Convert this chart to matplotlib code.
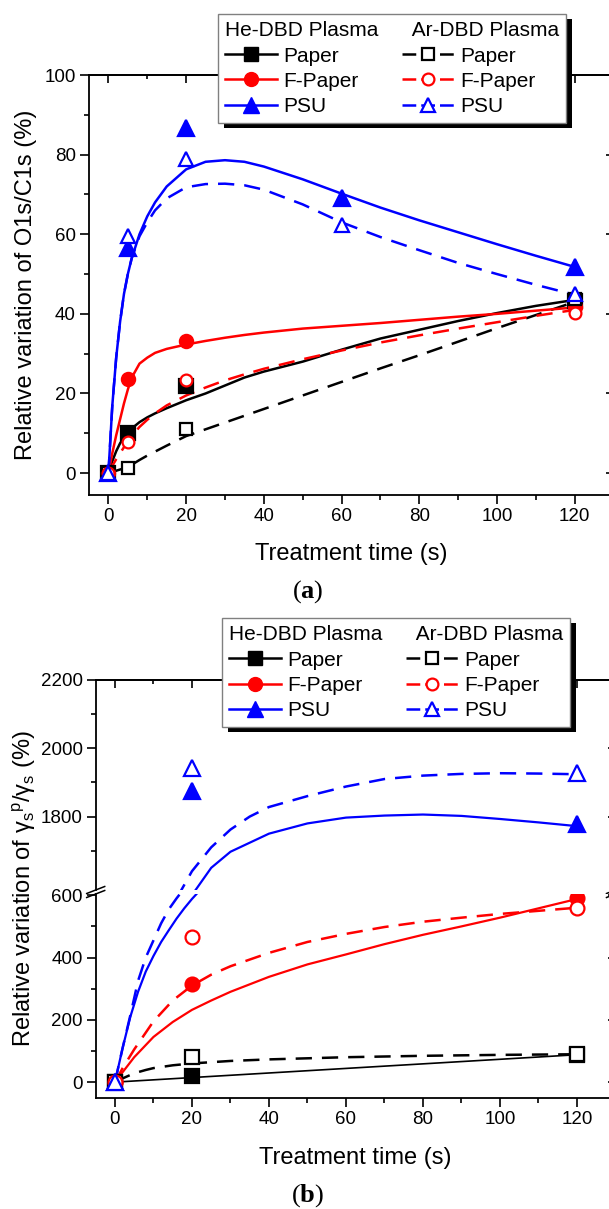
import matplotlib.pyplot as plt
from matplotlib.lines import Line2D
from matplotlib.patches import Rectangle
from matplotlib.ticker import MultipleLocator, FixedLocator
from matplotlib.transforms import IdentityTransform

plt.rcParams['font.family'] = ['Liberation Sans', 'DejaVu Sans']
plt.rcParams['mathtext.fontset'] = 'custom'
plt.rcParams['mathtext.rm'] = 'Liberation Sans'
plt.rcParams['mathtext.it'] = 'Liberation Sans:italic'
plt.rcParams['mathtext.bf'] = 'Liberation Serif:bold'

# ---------------- panel (a): O1s/C1s ----------------
t_a = [0, 5, 20, 120]
t_psu_a = [0, 5, 20, 60, 120]
paper_he_a = [0, 10.1, 22.0, 43.2]
paper_ar_a = [0, 1.2, 11.2, 43.8]
fpaper_he_a = [0, 23.6, 33.3, 41.6]
fpaper_ar_a = [0, 7.8, 23.5, 40.3]
psu_he_a = [0, 56.5, 86.6, 69.0, 51.8]
psu_ar_a = [0, 59.6, 78.8, 62.4, 45.0]

# fitted curves
t_fit_a = [0, 1, 2, 3, 4, 5, 6, 8, 10, 12, 15, 20, 25, 30, 35, 40,
           50, 60, 70, 80, 90, 100, 110, 120]
paper_he_fit_a = [0, 3, 5.5, 7.5, 9, 10.2, 11.2, 12.8, 14, 15, 16.3, 18.3, 20, 22, 24, 25.5,
                  28, 31, 33.8, 36, 38.2, 40.2, 42, 43.5]
paper_ar_fit_a = [0, 0.3, 0.6, 0.9, 1.2, 1.5, 2.1, 3.3, 4.4, 5.4, 6.9, 9.3, 11, 12.7, 14.4, 16.1,
                  19.5, 22.9, 26.3, 29.6, 33, 36.4, 39.7, 43]
fpaper_he_fit_a = [0, 5, 9.5, 13.5, 17.5, 21, 24, 27.5, 29, 30.2, 31.2, 32.3, 33.2, 34, 34.7, 35.3,
                   36.3, 37, 37.7, 38.5, 39.3, 40, 40.8, 41.6]
fpaper_ar_fit_a = [0, 1.8, 3.5, 5, 6.5, 8, 9.3, 11.6, 13.4, 15, 17, 19.5, 21.5, 23.3, 24.8, 26.2,
                   28.6, 30.8, 32.8, 34.6, 36.3, 37.9, 39.5, 41]
psu_he_fit_a = [0, 17, 29, 38, 45, 50, 54, 60, 64.5, 68, 72, 76.3, 78.2, 78.6, 78.2, 77,
                73.8, 70.2, 66.7, 63.5, 60.5, 57.5, 54.6, 51.8]
psu_ar_fit_a = [0, 17, 29, 38, 45, 50, 54, 59.5, 63, 66, 69, 71.8, 72.6, 72.7, 72.3, 71.2,
                67.5, 63, 59.3, 56, 52.8, 50, 47.3, 44.8]

# ---------------- panel (b): gamma_s^p / gamma_s ----------------
t_b = [0, 20, 120]
paper_he_b = [0, 20, 88]
paper_ar_b = [0, 82, 89]
fpaper_he_b = [0, 315, 590]
fpaper_ar_b = [0, 467, 558]
psu_he_b = [0, 1875, 1777]
psu_ar_b = [0, 1941, 1929]

t_paper_he_fit_b = [0, 120]
paper_he_fit_b = [0, 88]
t_paper_ar_fit_b = [0, 2, 4, 6, 8, 10, 15, 20, 30, 40, 60, 80, 100, 120]
paper_ar_fit_b = [0, 12, 23, 32, 39, 45, 54, 60, 68, 73, 80, 84.5, 87.5, 89.5]
t_fpaper_fit_b = [0, 2, 5, 10, 15, 20, 25, 30, 40, 50, 60, 70, 80, 90, 100, 110, 120]
fpaper_he_fit_b = [0, 32, 80, 145, 193, 232, 262, 290, 338, 378, 410, 443, 473, 500, 528, 558, 588]
fpaper_ar_fit_b = [0, 45, 105, 195, 262, 310, 345, 372, 415, 450, 476, 498, 515, 528, 540, 550, 560]
# PSU curves cross the axis break: lower and upper parts
t_psu_he_low_b = [0, 2, 4, 6, 8, 10, 12, 14, 16, 18, 20, 22]
psu_he_low_b = [0, 110, 210, 290, 355, 405, 450, 488, 525, 558, 588, 615]
t_psu_he_high_b = [20, 25, 30, 40, 50, 60, 70, 80, 90, 100, 110, 120]
psu_he_high_b = [1570, 1650, 1697, 1750, 1780, 1797, 1803, 1806, 1802, 1793, 1783, 1772]
t_psu_ar_low_b = [0, 2, 4, 6, 8, 10, 12, 14, 16, 18]
psu_ar_low_b = [0, 110, 215, 325, 400, 455, 510, 555, 590, 622]
t_psu_ar_high_b = [16, 20, 25, 30, 35, 40, 50, 60, 70, 80, 90, 100, 110, 120]
psu_ar_high_b = [1560, 1640, 1710, 1762, 1800, 1828, 1860, 1888, 1910, 1920, 1925, 1927, 1926, 1924]

hi_major = [1800, 2000, 2200]
hi_minor = [1700, 1900, 2100]

BLACK, RED, BLUE = '#000000', '#ff0000', '#0000ff'
DASH = (6.5, 4)

fig = plt.figure(figsize=(6.09, 12.09), dpi=100)
W, H = 609.0, 1209.0


def px_axes(left, top, right, bottom):
    return fig.add_axes([left / W, 1 - bottom / H, (right - left) / W, (bottom - top) / H])


def style(ax, xlabels=True, top=True, bottom=True):
    ax.xaxis.set_major_locator(MultipleLocator(20))
    ax.xaxis.set_minor_locator(MultipleLocator(10))
    ax.tick_params(which='both', direction='out', width=1.2, labelsize=13.5,
                   top=False, right=False, bottom=bottom, labelbottom=xlabels)
    ax.tick_params(which='major', length=6.5, pad=3)
    ax.tick_params(which='minor', length=3.5)
    for s in ax.spines.values():
        s.set_linewidth(1.3)
    sec_r = ax.secondary_yaxis('right')
    sec_r.yaxis.set_major_locator(ax.yaxis.get_major_locator())
    sec_r.yaxis.set_minor_locator(ax.yaxis.get_minor_locator())
    sec_r.tick_params(which='both', direction='in', width=1.2, labelright=False)
    sec_r.tick_params(which='major', length=6)
    sec_r.tick_params(which='minor', length=3)
    sec_r.spines['right'].set_linewidth(1.3)
    if top:
        sec_t = ax.secondary_xaxis('top')
        sec_t.xaxis.set_major_locator(MultipleLocator(20))
        sec_t.xaxis.set_minor_locator(MultipleLocator(10))
        sec_t.tick_params(which='both', direction='in', width=1.2, labeltop=False)
        sec_t.tick_params(which='major', length=6)
        sec_t.tick_params(which='minor', length=3)
        sec_t.spines['top'].set_linewidth(1.3)


def points(ax, t, y, color, marker, ms, filled):
    ax.plot(t, y, ls='none', marker=marker, ms=ms, color=color,
            mfc=color if filled else 'white', mec=color, mew=1.6,
            zorder=4 if filled else 5)


# ----- panel (a) -----
ax_a = px_axes(89, 75, 613.5, 495)
ax_a.set_xlim(-5, 130)
ax_a.set_ylim(-5.5, 100)
ax_a.yaxis.set_major_locator(MultipleLocator(20))
ax_a.yaxis.set_minor_locator(MultipleLocator(10))

ax_a.plot(t_fit_a, paper_he_fit_a, color=BLACK, lw=1.8)
ax_a.plot(t_fit_a, paper_ar_fit_a, color=BLACK, lw=1.8, dashes=DASH)
ax_a.plot(t_fit_a, fpaper_he_fit_a, color=RED, lw=1.8)
ax_a.plot(t_fit_a, fpaper_ar_fit_a, color=RED, lw=1.8, dashes=DASH)
ax_a.plot(t_fit_a, psu_he_fit_a, color=BLUE, lw=1.8)
ax_a.plot(t_fit_a, psu_ar_fit_a, color=BLUE, lw=1.8, dashes=DASH)

points(ax_a, t_a, paper_he_a, BLACK, 's', 9.5, True)
points(ax_a, t_a, fpaper_he_a, RED, 'o', 9.5, True)
points(ax_a, t_psu_a, psu_he_a, BLUE, '^', 11, True)
points(ax_a, t_a, paper_ar_a, BLACK, 's', 9, False)
points(ax_a, t_a, fpaper_ar_a, RED, 'o', 8.5, False)
points(ax_a, t_psu_a, psu_ar_a, BLUE, '^', 10, False)
style(ax_a)
ax_a.set_xlabel('Treatment time (s)', fontsize=17, labelpad=13)
fig.text(26 / W, 1 - 285 / H, 'Relative variation of O1s/C1s (%)', rotation=90,
         ha='center', va='center', fontsize=17)
fig.text(308 / W, 1 - 592 / H, r'($\mathbf{a}$)', family='Liberation Serif',
         ha='center', va='center', fontsize=19)

# ----- panel (b), broken y axis -----
ax_hi = px_axes(95.7, 680, 615.5, 890)
ax_lo = px_axes(95.7, 894, 615.5, 1097.7)
ax_hi.set_ylim(1585, 2200)
ax_lo.set_ylim(-50, 604)
ax_hi.yaxis.set_major_locator(FixedLocator(hi_major))
ax_hi.yaxis.set_minor_locator(FixedLocator(hi_minor))
ax_lo.yaxis.set_major_locator(MultipleLocator(200))
ax_lo.yaxis.set_minor_locator(MultipleLocator(100))
for ax in (ax_hi, ax_lo):
    ax.set_xlim(-5, 130)
    ax.plot(t_paper_he_fit_b, paper_he_fit_b, color=BLACK, lw=1.2)
    ax.plot(t_paper_ar_fit_b, paper_ar_fit_b, color=BLACK, lw=1.8, dashes=DASH)
    ax.plot(t_fpaper_fit_b, fpaper_he_fit_b, color=RED, lw=1.6)
    ax.plot(t_fpaper_fit_b, fpaper_ar_fit_b, color=RED, lw=1.8, dashes=DASH)
    ax.plot(t_psu_he_low_b, psu_he_low_b, color=BLUE, lw=1.6)
    ax.plot(t_psu_he_high_b, psu_he_high_b, color=BLUE, lw=1.6)
    ax.plot(t_psu_ar_low_b, psu_ar_low_b, color=BLUE, lw=1.8, dashes=DASH)
    ax.plot(t_psu_ar_high_b, psu_ar_high_b, color=BLUE, lw=1.8, dashes=DASH)
    points(ax, t_b, paper_he_b, BLACK, 's', 9.5, True)
    points(ax, t_b, fpaper_he_b, RED, 'o', 10, True)
    points(ax, t_b, psu_he_b, BLUE, '^', 11.5, True)
    points(ax, t_b, paper_ar_b, BLACK, 's', 9.5, False)
    points(ax, t_b, fpaper_ar_b, RED, 'o', 10, False)
    points(ax, t_b, psu_ar_b, BLUE, '^', 11.5, False)

style(ax_hi, xlabels=False, top=True, bottom=False)
style(ax_lo, xlabels=True, top=False, bottom=True)
ax_hi.spines['bottom'].set_visible(False)
ax_lo.spines['top'].set_visible(False)

# break marks on the y axes
dx, dy = 9 / 520, 3.5
for ax, y0 in ((ax_hi, 0), (ax_lo, 1)):
    h = ax.get_position().height * H
    for xc in (0, 1):
        ax.plot([xc - dx, xc + dx], [y0 - dy / h, y0 + dy / h], color=BLACK,
                lw=1.1, transform=ax.transAxes, clip_on=False)

ax_lo.set_xlabel('Treatment time (s)', fontsize=17, labelpad=14)
fig.text(24 / W, 1 - 889 / H,
         r'Relative variation of $\mathregular{{γ_s}^{p}/γ_s}$ (%)',
         rotation=90, ha='center', va='center', fontsize=17)
fig.text(308 / W, 1 - 1196 / H, r'($\mathbf{b}$)', family='Liberation Serif',
         ha='center', va='center', fontsize=19)

# ----- legends -----
labels = ['Paper', 'F-Paper', 'PSU', 'Paper', 'F-Paper', 'PSU']
legends = []
for anchor in ((217.7, 14), (221.7, 618)):
    hs = [Line2D([], [], color=BLACK, lw=1.8, marker='s', ms=10, mfc=BLACK, mec=BLACK),
          Line2D([], [], color=RED, lw=1.8, marker='o', ms=10, mfc=RED, mec=RED),
          Line2D([], [], color=BLUE, lw=1.8, marker='^', ms=11, mfc=BLUE, mec=BLUE),
          Line2D([], [], color=BLACK, lw=1.8, ls='--', dashes=(5.5, 2), marker='s', ms=8.5,
                 mfc='white', mec=BLACK, mew=1.6),
          Line2D([], [], color=RED, lw=1.8, ls='--', dashes=(5.5, 2), marker='o', ms=8.5,
                 mfc='white', mec=RED, mew=1.6),
          Line2D([], [], color=BLUE, lw=1.8, ls='--', dashes=(5.5, 2), marker='^', ms=10,
                 mfc='white', mec=BLUE, mew=1.6)]
    leg = fig.legend(hs, labels, ncol=2, loc='upper left',
                     bbox_to_anchor=(anchor[0] / W, 1 - anchor[1] / H),
                     bbox_transform=fig.transFigure, borderaxespad=0,
                     title='He-DBD Plasma      Ar-DBD Plasma', alignment='left',
                     title_fontproperties={'size': 15}, fontsize=15,
                     frameon=True, fancybox=False, framealpha=1, edgecolor='#808080',
                     borderpad=0.35, labelspacing=0.3, handlelength=2.5,
                     handletextpad=0.3, columnspacing=2.1)
    leg.get_frame().set_linewidth(1.0)
    legends.append(leg)

fig.canvas.draw()
for leg in legends:
    bb = leg.get_window_extent()
    fig.add_artist(Rectangle((bb.x0 + 6, bb.y0 - 5), bb.width, bb.height,
                             transform=IdentityTransform(), fc=BLACK, ec='none', zorder=4))

fig.savefig('out.png', dpi=100)
